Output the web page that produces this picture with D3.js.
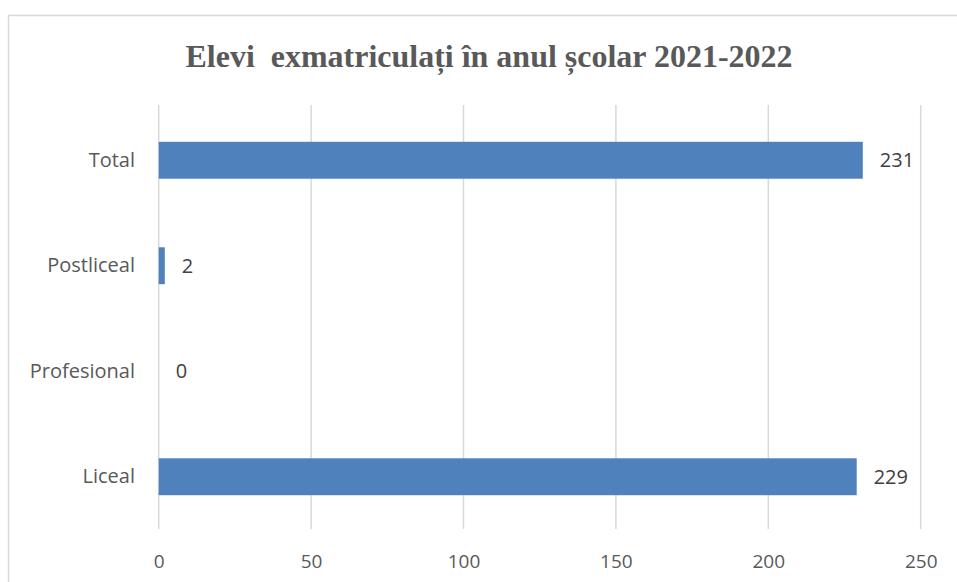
<!DOCTYPE html>
<html>
<head>
<meta charset="utf-8">
<script src="https://cdn.jsdelivr.net/npm/d3@7"></script>
<style>
  body { margin: 0; background: #fff; }
  svg { display: block; }
</style>
</head>
<body>
<div id="graph"></div>
<script>
// data
var categories = ["Liceal", "Profesional", "Postliceal", "Total"];
var values = [229, 0, 2, 231];
var xTicks = [0, 50, 100, 150, 200, 250];
var title = "Elevi  exmatriculați în anul școlar 2021-2022";

var W = 957, H = 582;
var plotLeft = 158.7, plotRight = 920.7, plotTop = 105, plotBottom = 529;

var svg = d3.select("#graph")
            .append("svg")
            .attr("width", W)
            .attr("height", H);

// chart area border
svg.append("rect")
    .attr("x", 8.5).attr("y", 15.5)
    .attr("width", 980).attr("height", 620)
    .attr("fill", "#fff")
    .attr("stroke", "#d9d9d9")
    .attr("stroke-width", 1.5);

// title (condensed, like the original)
svg.append("text")
    .attr("x", 489).attr("y", 67)
    .attr("text-anchor", "middle")
    .attr("textLength", 607)
    .attr("lengthAdjust", "spacingAndGlyphs")
    .style("white-space", "pre")
    .style("font-family", "'Liberation Serif', 'Times New Roman', serif")
    .style("font-weight", "bold")
    .style("font-size", "32px")
    .style("fill", "#595959")
    .text(title);

var x = d3.scaleLinear()
          .domain([0, 250])
          .range([plotLeft, plotRight]);

// reversed so "Total" is on top
var y = d3.scaleBand()
          .domain(categories.slice().reverse())
          .range([plotTop + 2.5, plotBottom + 0.5])
          .paddingInner(0.65)
          .paddingOuter(0.325);

// vertical gridlines (the 0 line included)
svg.append("g")
    .selectAll("line")
    .data(xTicks)
    .enter()
    .append("line")
    .attr("x1", function(d) { return x(d); })
    .attr("x2", function(d) { return x(d); })
    .attr("y1", plotTop)
    .attr("y2", plotBottom)
    .attr("stroke", "#d9d9d9")
    .attr("stroke-width", 1.5);

// x axis tick labels
var xAxis = svg.append("g")
    .attr("transform", "translate(0," + 554 + ")")
    .call(d3.axisBottom(x).tickValues(xTicks).tickSize(0).tickPadding(0));
xAxis.select(".domain").remove();
xAxis.selectAll("text")
    .attr("dy", "0.71em")
    .attr("y", 0)
    .style("font-family", "'Open Sans', sans-serif")
    .style("font-size", "19px")
    .style("fill", "#595959");

// y axis category labels
var yAxis = svg.append("g")
    .attr("transform", "translate(" + 135 + ",0)")
    .call(d3.axisLeft(y).tickSize(0).tickPadding(0));
yAxis.select(".domain").remove();
yAxis.selectAll("text")
    .style("font-family", "'Open Sans', sans-serif")
    .style("font-size", "20px")
    .style("fill", "#595959");

// bars
var rows = categories.map(function(c, i) { return { cat: c, value: values[i] }; });

svg.append("g")
    .selectAll("rect")
    .data(rows)
    .enter()
    .append("rect")
    .attr("x", x(0))
    .attr("y", function(d) { return y(d.cat); })
    .attr("width", function(d) { return x(d.value) - x(0); })
    .attr("height", y.bandwidth())
    .style("fill", "#4f81bd");

// value labels
svg.append("g")
    .selectAll("text")
    .data(rows)
    .enter()
    .append("text")
    .attr("x", function(d) { return x(d.value) + 17; })
    .attr("y", function(d) { return y(d.cat) + y.bandwidth() / 2; })
    .attr("dy", "0.35em")
    .style("font-family", "'Open Sans', sans-serif")
    .style("font-size", "20px")
    .style("fill", "#404040")
    .text(function(d) { return d.value; });
</script>
</body>
</html>
